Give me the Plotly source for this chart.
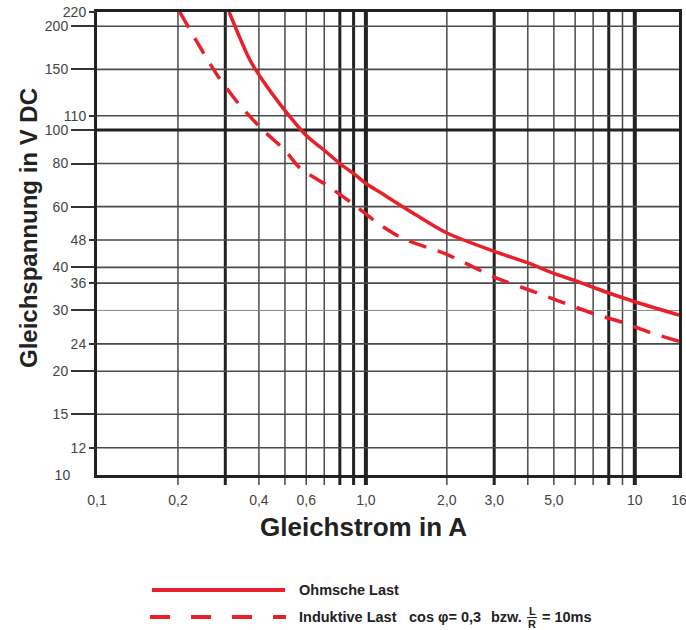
import math
import plotly.graph_objects as go

# ---------------- data ----------------
ohm_I = [0.31, 0.37, 0.414, 0.479, 0.6, 0.7, 0.8, 0.9, 1.0, 1.128, 1.55, 2.0, 3.0, 4.0, 5.0, 6.0, 8.0, 10.0, 14.6]
ohm_U = [220, 160, 139, 119, 96.5, 87.4, 80, 74.8, 70, 66.0, 56.5, 50.3, 44.5, 41.2, 38.4, 36.6, 33.7, 31.8, 29.1]

ind_I = [0.203, 0.279, 0.34, 0.414, 0.5, 0.568, 0.714, 0.89, 1.108, 1.373, 2.0, 3.0, 4.0, 5.14, 7.0, 9.0, 11.37, 14.6]
ind_U = [220, 145, 118, 100, 87.4, 77.7, 69.3, 61.3, 53.7, 48.5, 43.6, 37.5, 34.5, 32.1, 29.4, 27.7, 25.9, 24.4]

x_min, x_end = 0.1, 14.6          # right edge of the chart (labelled "16")
y_min, y_max = 10, 220

x_tick_vals = [0.1, 0.2, 0.4, 0.6, 1.0, 2.0, 3.0, 5.0, 10, x_end]
x_tick_text = ["0,1", "0,2", "0,4", "0,6", "1,0", "2,0", "3,0", "5,0", "10", "16"]

x_grid_thin = [0.2, 0.4, 0.5, 0.6, 0.7, 2, 4, 5, 6, 7, 9]
x_grid_thick = [0.3, 0.8, 0.9, 3, 8]
x_grid_heavy = [1, 10]

y_ticks_long = [15, 20, 30, 40, 60, 80, 100, 150, 200]
y_ticks_short = [12, 24, 36, 48, 110, 220]
y_grid = [12, 15, 20, 24, 36, 40, 48, 60, 80, 110, 150, 200]
y_grid_light = [30]
y_grid_heavy = [100]

RED = "#e8202a"
DARK = "#222222"
GRID = "#4a4a4a"
FONT = "Liberation Sans, Arial, sans-serif"

fig = go.Figure()
fig.add_trace(go.Scatter(x=ohm_I, y=ohm_U, mode="lines",
                         line=dict(color=RED, width=3.5, shape="spline", smoothing=0.8),
                         showlegend=False, hoverinfo="skip"))
fig.add_trace(go.Scatter(x=ind_I, y=ind_U, mode="lines",
                         line=dict(color=RED, width=3.5, shape="spline", smoothing=0.8, dash="18px,12px"),
                         showlegend=False, hoverinfo="skip"))
# helper invisible traces so the overlay axes get drawn
fig.add_trace(go.Scatter(x=[1], y=[50], yaxis="y2", mode="markers", marker=dict(opacity=0),
                         showlegend=False, hoverinfo="skip"))
fig.add_trace(go.Scatter(x=[1], y=[50], yaxis="y3", mode="markers", marker=dict(opacity=0),
                         showlegend=False, hoverinfo="skip"))

shapes = []
ext = -10 / 463
for v in x_grid_thin:
    shapes.append(dict(type="line", xref="x", yref="paper", x0=v, x1=v, y0=ext, y1=1,
                       line=dict(color=GRID, width=1.5), layer="below"))
for v in x_grid_thick:
    shapes.append(dict(type="line", xref="x", yref="paper", x0=v, x1=v, y0=ext, y1=1,
                       line=dict(color=DARK, width=3), layer="below"))
for v in x_grid_heavy:
    shapes.append(dict(type="line", xref="x", yref="paper", x0=v, x1=v, y0=ext, y1=1,
                       line=dict(color=DARK, width=4), layer="below"))
for v in y_grid:
    shapes.append(dict(type="line", xref="paper", yref="y", x0=0, x1=1, y0=v, y1=v,
                       line=dict(color=GRID, width=1.6), layer="below"))
for v in y_grid_light:
    shapes.append(dict(type="line", xref="paper", yref="y", x0=0, x1=1, y0=v, y1=v,
                       line=dict(color="#888888", width=1), layer="below"))
for v in y_grid_heavy:
    shapes.append(dict(type="line", xref="paper", yref="y", x0=0, x1=1, y0=v, y1=v,
                       line=dict(color=DARK, width=3), layer="below"))


def px(xp):
    return (xp - 97) / 582


def py(yp):
    return (475 - yp) / 463


# legend samples
shapes.append(dict(type="line", xref="paper", yref="paper", x0=px(152), x1=px(285), y0=py(590), y1=py(590),
                   line=dict(color=RED, width=4)))
shapes.append(dict(type="line", xref="paper", yref="paper", x0=px(150), x1=px(286), y0=py(617), y1=py(617),
                   line=dict(color=RED, width=4, dash="20px,21px")))
shapes.append(dict(type="line", xref="paper", yref="paper", x0=px(527), x1=px(537), y0=py(617.5), y1=py(617.5),
                   line=dict(color=DARK, width=1)))

lfont = dict(family=FONT, size=14.5, color=DARK)
sfont = dict(family=FONT, size=11, color=DARK)


def note(text, x, y, font, xanchor="center", **kw):
    return dict(text=text, xref="paper", yref="paper", x=px(x), y=py(y), xanchor=xanchor,
                yanchor="middle", showarrow=False, font=font, **kw)


annotations = [
    note("<b>Gleichstrom in A</b>", 363, 527, dict(family=FONT, size=26, color=DARK)),
    note("<b>Gleichspannung in V DC</b>", 28, 228, dict(family=FONT, size=24, color=DARK), textangle=-90),
    note("<b>Ohmsche Last</b>", 297, 590, lfont, xanchor="left"),
    note("<b>Induktive Last</b>", 297, 617, lfont, xanchor="left"),
    note("<b>cos φ= 0,3</b>", 407, 617, lfont, xanchor="left"),
    note("<b>bzw.</b>", 489, 617, lfont, xanchor="left"),
    note("<b>L</b>", 532, 611, sfont),
    note("<b>R</b>", 532, 623.5, sfont),
    note("<b>= 10ms</b>", 540, 617, lfont, xanchor="left"),
]

tickfont = dict(family=FONT, size=14, color="#444444")
yrange = [math.log10(y_min), math.log10(y_max)]

fig.update_layout(
    width=686, height=630,
    margin=dict(l=97, r=7, t=12, b=155, autoexpand=False),
    paper_bgcolor="white", plot_bgcolor="white",
    shapes=shapes, annotations=annotations,
    xaxis=dict(type="log", range=[math.log10(x_min), math.log10(x_end)], automargin=False,
               tickvals=x_tick_vals, ticktext=x_tick_text, ticks="outside", ticklen=10,
               ticklabeloverflow="allow",
               tickcolor="rgba(0,0,0,0)", tickfont=tickfont, showgrid=False, zeroline=False,
               showline=True, linewidth=3, linecolor=DARK, mirror=True),
    yaxis=dict(type="log", range=yrange, tickvals=y_ticks_long, ticktext=[str(v) for v in y_ticks_long],
               automargin=False, ticklabeloverflow="allow",
               ticks="outside", ticklen=23, tickwidth=1.5, tickcolor="#333333", tickfont=tickfont,
               showgrid=False, zeroline=False, showline=True, linewidth=3, linecolor=DARK, mirror=True),
    yaxis2=dict(type="log", range=yrange, overlaying="y", side="left", tickvals=y_ticks_short,
                automargin=False, ticklabeloverflow="allow",
                ticktext=[str(v) for v in y_ticks_short], ticks="outside", ticklen=7, tickwidth=1.5,
                tickcolor="#333333", tickfont=tickfont, showgrid=False, zeroline=False, showline=False),
    yaxis3=dict(type="log", range=yrange, overlaying="y", side="left", tickvals=[y_min],
                automargin=False, ticklabeloverflow="allow",
                ticktext=[str(y_min)], ticks="outside", ticklen=23, tickcolor="rgba(0,0,0,0)",
                tickfont=tickfont, showgrid=False, zeroline=False, showline=False),
)

fig.write_html("out.html", config={"displayModeBar": False},
               post_script="document.body.style.margin='0px';")
